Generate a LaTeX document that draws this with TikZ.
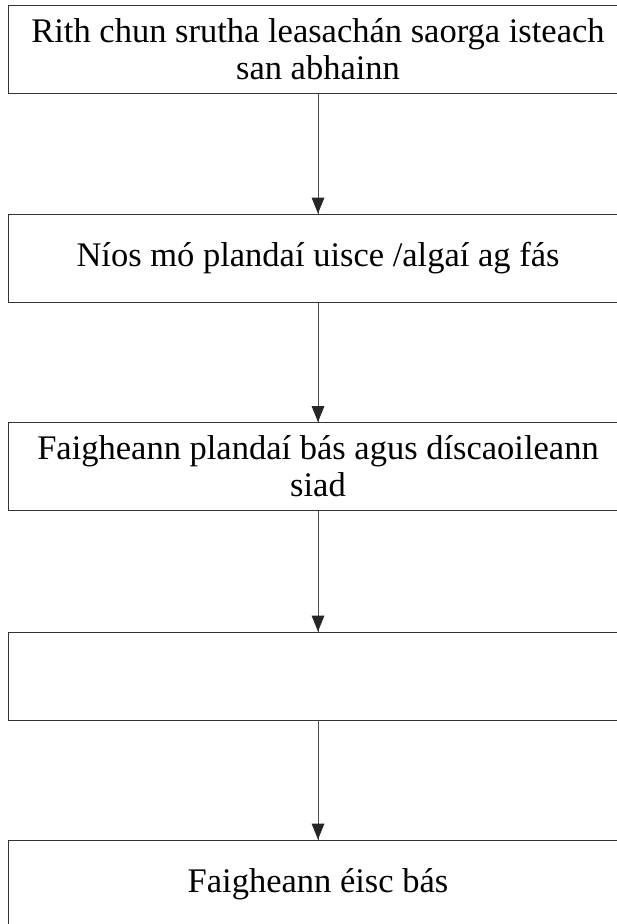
\documentclass[tikz,border=0pt]{standalone}
\usepackage{fontspec}
\setmainfont{Liberation Serif}
\usepackage{tikz}

\begin{document}
\begin{tikzpicture}[x=1pt,y=1pt]
\tikzset{stage/.style={draw=black!80, line width=1pt, minimum width=620pt, minimum height=88pt, inner sep=0pt, align=center, font=\fontsize{34.5}{37}\selectfont}}
\tikzset{flow/.style={draw=black!70, line width=1pt}}
\useasboundingbox (0,0) rectangle (617,-924);
\node [stage] (r1) at (318,-49) {Rith chun srutha leasachán saorga isteach\\san abhainn};
\node [stage] (r2) at (318,-258) {Níos mó plandaí uisce /algaí ag fás};
\node [stage] (r3) at (318,-466.5) {Faigheann plandaí bás agus díscaoileann\\siad};
\node [stage] (r4) at (318,-676) {};
\node [stage] (r5) at (318,-884) {Faigheann éisc bás};
\draw [flow] (r1) -- (r2);
\fill [black!85] (r2.north) -- ++(-6.5,16) -- ++(13,0) -- cycle;
\draw [flow] (r2) -- (r3);
\fill [black!85] (r3.north) -- ++(-6.5,16) -- ++(13,0) -- cycle;
\draw [flow] (r3) -- (r4);
\fill [black!85] (r4.north) -- ++(-6.5,16) -- ++(13,0) -- cycle;
\draw [flow] (r4) -- (r5);
\fill [black!85] (r5.north) -- ++(-6.5,16) -- ++(13,0) -- cycle;
\end{tikzpicture}
\end{document}
